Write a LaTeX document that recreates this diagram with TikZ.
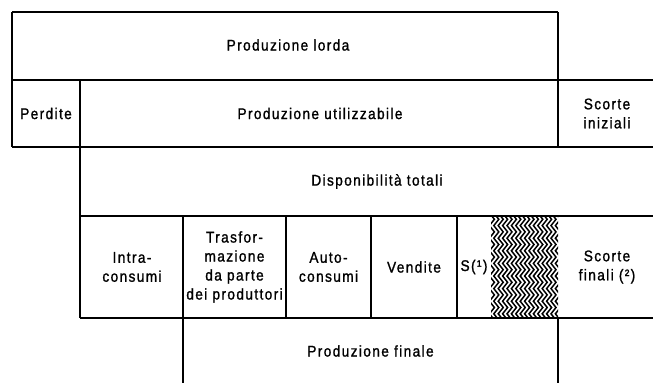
\documentclass[tikz,border=0pt]{standalone}
\usepackage{fontspec}
\setmainfont[FakeStretch=0.88,LetterSpace=9,FakeBold=1.2]{Liberation Sans}
\begin{document}
\begin{tikzpicture}[x=1pt,y=-1pt,line width=1.2pt,
  lbl/.style={font=\fontsize{15.5}{19}\selectfont,align=center,inner sep=0pt}]
\useasboundingbox (0,0) rectangle (653,383);
\fill[white] (0,0) rectangle (653,383);
% frame lines
\draw (12,12) -- (558,12);
\draw (12,12) -- (12,147);
\draw (558,12) -- (558,147);
\draw (12,80) -- (653,80);
\draw (12,147) -- (653,147);
\draw (80,80) -- (80,318);
\draw (80,216) -- (653,216);
\draw (80,318) -- (653,318);
\draw (183,216) -- (183,383);
\draw (286,216) -- (286,318);
\draw (371,216) -- (371,318);
\draw (457,216) -- (457,318);
\draw (558,318) -- (558,383);
% hatch
\begin{scope}
\clip (491,216) rectangle (558,318);
\foreach \i in {0,...,18} {
  \draw[line width=1.5pt] (485+\i*4.4,213) \foreach \j in {1,...,9} { -- ++(5,6.3) -- ++(-5,6.3) };
}
\end{scope}
% labels
\node[lbl] (lorda) at (288,45) {Produzione lorda};
\node[lbl] (perd) at (46,113.5) {Perdite};
\node[lbl] (util) at (320,113.5) {Produzione utilizzabile};
\node[lbl] (sini) at (607,113.5) {Scorte\\iniziali};
\node[lbl] (disp) at (377,181.5) {Disponibilità totali};
\node[lbl] (intra) at (132,267) {Intra-\\consumi};
\node[lbl] (trasf) at (234.5,267) {Trasfor-\\mazione\\da parte\\dei produttori};
\node[lbl] (auto) at (328.5,267) {Auto-\\consumi};
\node[lbl] (vend) at (414,267) {Vendite};
\node[lbl] (s1) at (474,267) {S(¹)};
\node[lbl] (sfin) at (607,267) {Scorte\\finali (²)};
\node[lbl] (pfin) at (370.5,351) {Produzione finale};
\end{tikzpicture}
\end{document}
